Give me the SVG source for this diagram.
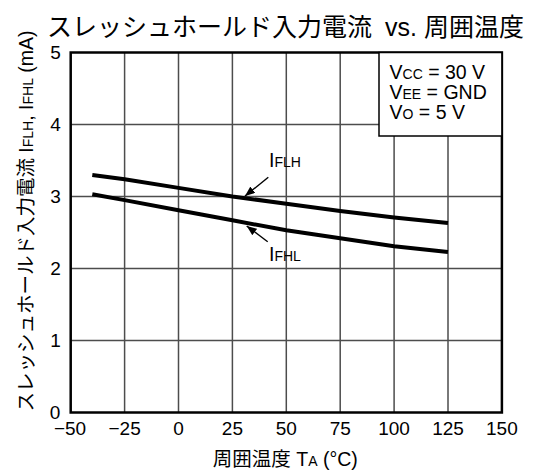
<svg xmlns="http://www.w3.org/2000/svg" width="536" height="474" viewBox="0 0 536 474">
<style>
text{font-family:"Liberation Sans","Noto Sans CJK JP",sans-serif;fill:#000}
.tick{font-size:19px}
.lab{font-size:19.5px}
.sub{font-size:14px}
.grid{stroke:#4d4d4d;stroke-width:1.5;fill:none}
.curve{stroke:#000;stroke-width:4;fill:none;stroke-linejoin:round}
.arr{stroke:#000;stroke-width:1.4;fill:none}
</style>
<defs>
<marker id="ah" viewBox="0 0 10 8" refX="10" refY="4" markerWidth="10" markerHeight="8" markerUnits="userSpaceOnUse" orient="auto">
<path d="M0,0 L10,4 L0,8 Z" fill="#000"/>
</marker>
</defs>
<rect width="536" height="474" fill="#fff"/>
<text id="title" x="47" y="35.5" font-size="25">スレッシュホールド入力電流<tspan dx="13">vs.</tspan> 周囲温度</text>
<g id="grid">
<path class="grid" d="M124.6,52.5V412.5M178.5,52.5V412.5M232.4,52.5V412.5M286.3,52.5V412.5M340.2,52.5V412.5M394.1,136V412.5M448,136V412.5"/>
<path class="grid" d="M70.7,124.5H379M70.7,196.5H501.9M70.7,268.5H501.9M70.7,340.5H501.9"/>
</g>
<g id="frame">
<rect x="70.7" y="52.5" width="431.2" height="360" fill="none" stroke="#000" stroke-width="2.5"/>
</g>
<g id="legend">
<rect x="379" y="52.5" width="122.9" height="83.5" fill="#fff" stroke="#000" stroke-width="1.5"/>
<text class="lab" x="389.5" y="78.5">V<tspan class="sub">CC</tspan> = 30 V</text>
<text class="lab" x="389.5" y="98.5">V<tspan class="sub">EE</tspan> = GND</text>
<text class="lab" x="389.5" y="118.5">V<tspan class="sub">O</tspan> = 5 V</text>
</g>
<g id="curve-iflh">
<polyline class="curve" points="92.3,174.9 124.6,179.2 178.5,187.9 232.4,196.5 286.3,203.7 340.2,210.9 394.1,217.4 448,223.1"/>
</g>
<g id="curve-ifhl">
<polyline class="curve" points="92.3,194.3 124.6,200.1 178.5,210.2 232.4,220.3 286.3,230.3 340.2,238.3 394.1,246.2 448,251.9"/>
</g>
<g id="connectors">
<line class="arr" x1="268.3" y1="177.3" x2="245" y2="196" marker-end="url(#ah)"/>
<line class="arr" x1="267.7" y1="241.7" x2="246.7" y2="226" marker-end="url(#ah)"/>
</g>
<g id="label-iflh"><text class="lab" x="269" y="167.3">I<tspan class="sub">FLH</tspan></text></g>
<g id="label-ifhl"><text class="lab" x="269" y="260.7">I<tspan class="sub">FHL</tspan></text></g>
<g id="x-ticks" class="tick" text-anchor="middle">
<text x="70" y="435">−50</text>
<text x="124.6" y="435">−25</text>
<text x="178.5" y="435">0</text>
<text x="232.4" y="435">25</text>
<text x="286.3" y="435">50</text>
<text x="340.2" y="435">75</text>
<text x="394.1" y="435">100</text>
<text x="448" y="435">125</text>
<text x="501.9" y="435">150</text>
</g>
<g id="y-ticks" class="tick" text-anchor="middle">
<text x="55.5" y="59.3">5</text>
<text x="55.5" y="131.3">4</text>
<text x="55.5" y="203.3">3</text>
<text x="55.5" y="275.3">2</text>
<text x="55.5" y="347.3">1</text>
<text x="55" y="418.5">0</text>
</g>
<g id="x-label"><text class="lab" x="285.3" y="466" text-anchor="middle">周囲温度 T<tspan class="sub">A</tspan> (°C)</text></g>
<g id="y-label"><text class="lab" transform="translate(33.3,221) rotate(-90)" text-anchor="middle">スレッシュホールド入力電流 I<tspan class="sub">FLH</tspan>, I<tspan class="sub">FHL</tspan> (mA)</text></g>
</svg>
